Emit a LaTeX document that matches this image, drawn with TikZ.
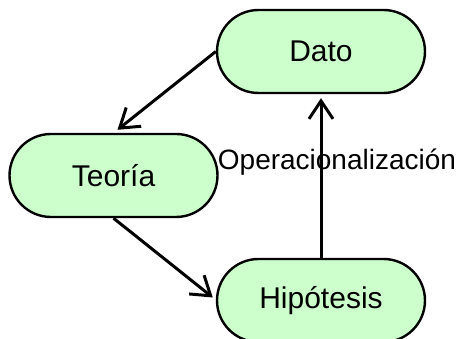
\documentclass[tikz,border=0pt]{standalone}
\usepackage{fontspec}
\setmainfont{Liberation Sans}
\usepackage{tikz}
\usetikzlibrary{arrows.meta,shapes.misc,positioning}
\definecolor{phasegreen}{RGB}{204,255,204}

\begin{document}
\begin{tikzpicture}[x=1pt,y=1pt,
  phase/.style={rounded rectangle,draw,line width=2.4pt,fill=phasegreen,
    minimum width=208pt,minimum height=83pt,inner sep=0pt,
    font=\fontsize{30}{34}\selectfont},
  link/.style={line width=3pt,-{Straight Barb[length=18pt,width=24pt,line width=3pt]}}]
\useasboundingbox (0,0) rectangle (459,339);
\node[phase] (dato) at (321,287.5) {Dato};
\node[phase] (teoria) at (113.5,163.5) {Teoría};
\node[phase] (hipotesis) at (321,38.5) {Hipótesis};
\node[anchor=base west,inner sep=0pt,font=\fontsize{28}{34}\selectfont] (oper)
  at ([yshift=6pt,xshift=-1pt]teoria.east) {Operacionalización};
\draw[link] (dato.west) -- ([xshift=4pt,yshift=3pt]teoria.north);
\draw[link] (teoria.south) -- ([xshift=-3pt,yshift=3pt]hipotesis.west);
\draw[link] (hipotesis.north) -- ([yshift=-4pt]dato.south);
\end{tikzpicture}
\end{document}
